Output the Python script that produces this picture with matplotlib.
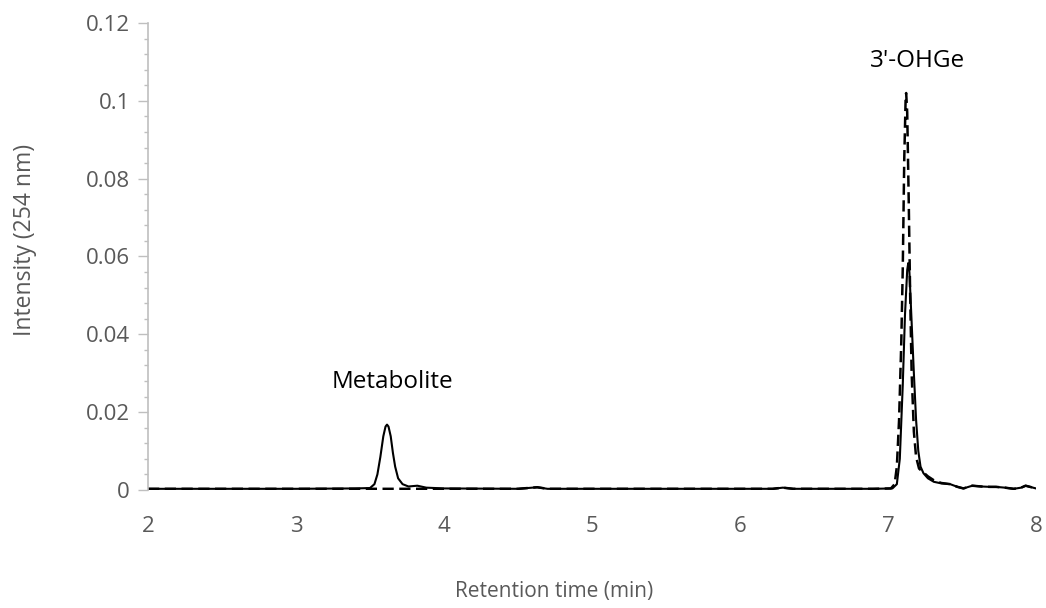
import matplotlib
matplotlib.use("Agg")
import matplotlib.pyplot as plt
from matplotlib.ticker import MultipleLocator, FuncFormatter

plt.rcParams['font.family'] = ['Open Sans', 'DejaVu Sans']

# sample trace (solid): retention time (min) and absorbance at 254 nm
t_sample = [2.0, 2.5, 3.0, 3.4, 3.5, 3.53, 3.55, 3.57, 3.59, 3.605, 3.615, 3.625,
            3.64, 3.655, 3.67, 3.69, 3.72, 3.76, 3.82, 3.88, 4.0, 4.5, 4.63, 4.7,
            5.0, 5.5, 6.0, 6.22, 6.29, 6.36, 6.9, 7.03, 7.06, 7.08, 7.1, 7.115,
            7.13, 7.137, 7.145, 7.16, 7.175, 7.19, 7.205, 7.22, 7.24, 7.27, 7.31,
            7.36, 7.42, 7.47, 7.51, 7.57, 7.63, 7.69, 7.73, 7.79, 7.85, 7.9, 7.93,
            7.96, 8.0]
i_sample = [0.0003, 0.0003, 0.0003, 0.0004, 0.0005, 0.0015, 0.004, 0.0085, 0.0138,
            0.0163, 0.0168, 0.0163, 0.0138, 0.0095, 0.006, 0.003, 0.0015, 0.0009,
            0.0011, 0.0006, 0.0004, 0.0003, 0.0007, 0.0003, 0.0003, 0.0003, 0.0003,
            0.0003, 0.0006, 0.0003, 0.0003, 0.0004, 0.0015, 0.008, 0.027, 0.045,
            0.0565, 0.0583, 0.056, 0.043, 0.030, 0.018, 0.010, 0.006, 0.0043, 0.003,
            0.0021, 0.0017, 0.0015, 0.0008, 0.0004, 0.0011, 0.0009, 0.0008, 0.0008,
            0.0006, 0.0003, 0.0006, 0.0011, 0.0008, 0.0004]

# standard trace (dashed)
t_std = [2.0, 2.5, 3.0, 3.5, 4.0, 4.5, 4.63, 4.7, 5.0, 5.5, 6.0, 6.22, 6.29, 6.36,
         6.9, 7.02, 7.045, 7.06, 7.075, 7.09, 7.1, 7.11, 7.12, 7.123, 7.13, 7.14,
         7.15, 7.16, 7.175, 7.19, 7.21, 7.24, 7.27, 7.31, 7.36, 7.42, 7.47, 7.51,
         7.57, 7.63, 7.69, 7.73, 7.79, 7.85, 7.9, 7.93, 7.96, 8.0]
i_std = [0.0003, 0.0003, 0.0003, 0.0003, 0.0003, 0.0003, 0.0007, 0.0003, 0.0003,
         0.0003, 0.0003, 0.0003, 0.0006, 0.0003, 0.0003, 0.0004, 0.0015, 0.006,
         0.018, 0.038, 0.057, 0.085, 0.1015, 0.102, 0.097, 0.075, 0.05, 0.03,
         0.015, 0.0085, 0.0055, 0.0045, 0.0035, 0.0025, 0.0018, 0.0015, 0.0008,
         0.0004, 0.0011, 0.0009, 0.0008, 0.0008, 0.0006, 0.0003, 0.0006, 0.0011,
         0.0008, 0.0004]

peak_labels = ['Metabolite', "3'-OHGe"]
label_x = [3.65, 7.2]
label_y = [0.0262, 0.1087]

grey = '#595959'
axis_grey = '#bfbfbf'

fig = plt.figure(figsize=(10.46, 6.08), dpi=100)
ax = fig.add_axes([0.1415, 0.1941, 0.8489, 0.7681])

ax.plot(t_std, i_std, color='black', lw=1.8, ls=(0, (4.5, 2.2)))
ax.plot(t_sample, i_sample, color='black', lw=1.5)

for txt, x, y in zip(peak_labels, label_x, label_y):
    ax.text(x, y, txt, ha='center', va='baseline', fontsize=17.5, color='black')

ax.set_xlim(2, 8)
ax.set_ylim(0, 0.12)
ax.yaxis.set_major_locator(MultipleLocator(0.02))
ax.yaxis.set_minor_locator(MultipleLocator(0.004))
ax.yaxis.set_major_formatter(FuncFormatter(lambda v, p: '%g' % round(v, 3)))
ax.xaxis.set_major_locator(MultipleLocator(1))

for s in ['top', 'right', 'bottom']:
    ax.spines[s].set_visible(False)
ax.spines['left'].set_color(axis_grey)
ax.spines['left'].set_linewidth(1.2)

ax.tick_params(axis='y', which='major', length=7, width=1, color=axis_grey,
               labelsize=16, labelcolor=grey, pad=6)
ax.tick_params(axis='y', which='minor', length=3, width=1, color=axis_grey)
ax.tick_params(axis='x', which='both', length=0, labelsize=16,
               labelcolor=grey, pad=19)

ax.set_xlabel('Retention time (min)', fontsize=15, color=grey, va='center')
ax.set_ylabel('Intensity (254 nm)', fontsize=16.5, color=grey, va='center')
ax.xaxis.set_label_coords(0.457, -0.218)
ax.yaxis.set_label_coords(-0.138, 0.535)

fig.savefig('out.png', dpi=100)
